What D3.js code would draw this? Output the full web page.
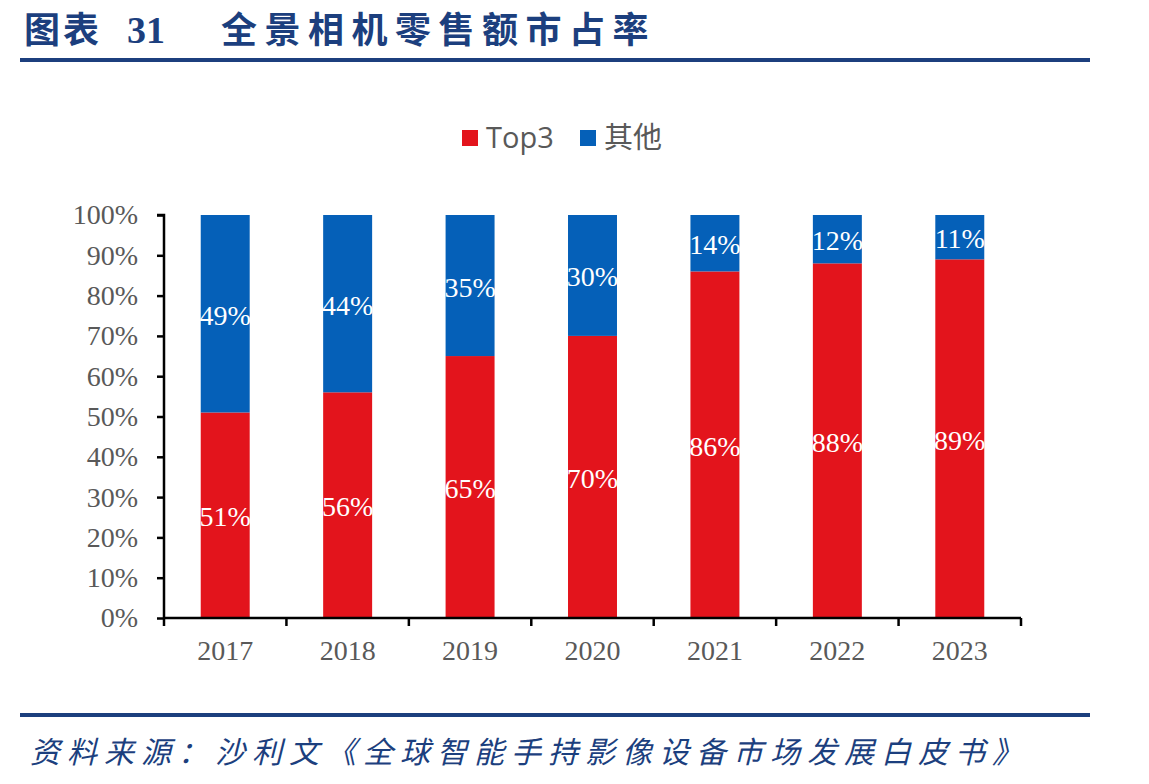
<!DOCTYPE html>
<html><head><meta charset="utf-8">
<script src="https://cdn.jsdelivr.net/npm/d3@7"></script>
<style>body{margin:0;background:#fff}</style>
</head><body>
<svg id="c" width="1149" height="784"></svg>
<script>
const years = ["2017","2018","2019","2020","2021","2022","2023"];
const top3 = [51,56,65,70,86,88,89];
const others = [49,44,35,30,14,12,11];
const yTicks = [0,10,20,30,40,50,60,70,80,90,100];
const seriesNames = ["Top3","其他"];
const colors = ["#E3141C","#0560B8"];

const svg = d3.select("#c");
const navy = "#1C3F7E";
// Title
svg.append("text").attr("x",24).attr("y",43)
  .attr("font-family","'Noto Sans CJK SC',sans-serif").attr("font-weight","bold")
  .attr("font-size",36).attr("fill",navy).attr("letter-spacing",3)
  .text("图表");
svg.append("text").attr("x",127).attr("y",43)
  .attr("font-family","'Liberation Serif',serif").attr("font-weight","bold")
  .attr("font-size",38).attr("fill",navy)
  .text("31");
svg.append("text").attr("x",221).attr("y",43)
  .attr("font-family","'Noto Sans CJK SC',sans-serif").attr("font-weight","bold")
  .attr("font-size",36).attr("fill",navy).attr("letter-spacing",7.5)
  .text("全景相机零售额市占率");
svg.append("rect").attr("x",20).attr("y",58).attr("width",1070).attr("height",4).attr("fill",navy);
svg.append("rect").attr("x",20).attr("y",713).attr("width",1070).attr("height",4).attr("fill",navy);
svg.append("text").attr("x",30).attr("y",763)
  .attr("font-family","'Noto Sans CJK SC',sans-serif").attr("font-style","italic")
  .attr("font-size",30).attr("fill",navy).attr("letter-spacing",7)
  .text("资料来源：沙利文《全球智能手持影像设备市场发展白皮书》");

// Chart
const x = d3.scaleBand().domain(years).range([164,1021]).paddingInner(0.6).paddingOuter(0.3);
const xb = d3.scaleBand().domain(years).range([164,1021]);
const y = d3.scaleLinear().domain([0,100]).range([618,215]);

const data = years.map((yr,i)=>({yr, top3:top3[i], others:others[i]}));
const stack = d3.stack().keys(["top3","others"])(data);

const g = svg.append("g");
stack.forEach((s,k)=>{
  g.selectAll(null).data(s).enter().append("rect")
    .attr("x",d=>x(d.data.yr)).attr("width",x.bandwidth())
    .attr("y",d=>y(d[1])).attr("height",d=>y(d[0])-y(d[1]))
    .attr("fill",colors[k]);
  g.selectAll(null).data(s).enter().append("text")
    .attr("x",d=>x(d.data.yr)+x.bandwidth()/2)
    .attr("y",d=>(y(d[0])+y(d[1]))/2+11)
    .attr("text-anchor","middle").attr("fill","#fff")
    .attr("font-family","'Liberation Serif',serif").attr("font-size",28)
    .text(d=>(d[1]-d[0])+"%");
});

// Y axis
const yAxis = d3.axisLeft(y).tickValues(yTicks).tickFormat(d=>d+"%").tickSize(7).tickPadding(19);
const ya = svg.append("g").attr("transform","translate(164,0)").call(yAxis);
ya.select(".domain").attr("stroke","#000").attr("stroke-width",2.5).attr("d","M-7,215H0V618");
ya.selectAll(".tick line").attr("stroke","#000").attr("stroke-width",2.5);
ya.selectAll("text").attr("font-family","'Liberation Serif',serif").attr("font-size",28).attr("fill","#595959");

// X axis
const xAxis = d3.axisBottom(xb).tickSize(0).tickPadding(22);
const xa = svg.append("g").attr("transform","translate(0,618)").call(xAxis);
xa.select(".domain").attr("stroke","#000").attr("stroke-width",2.5).attr("d","M164,0H1021");
xa.selectAll("text").attr("font-family","'Liberation Serif',serif").attr("font-size",28).attr("fill","#595959");
const bounds = years.map(yr=>xb(yr)).concat([xb(years[years.length-1])+xb.bandwidth()]);
xa.selectAll(".bt").data(bounds).enter().append("line")
  .attr("x1",d=>d).attr("x2",d=>d).attr("y1",0).attr("y2",8)
  .attr("stroke","#000").attr("stroke-width",2.5);

// Legend
const leg = svg.append("g");
const legX = [462,580];
seriesNames.forEach((n,i)=>{
  leg.append("rect").attr("x",legX[i]).attr("y",130).attr("width",16).attr("height",16).attr("fill",colors[i]);
  leg.append("text").attr("x",legX[i]+24).attr("y",148)
    .attr("font-family","'Open Sans','Noto Sans CJK SC',sans-serif").attr("font-size",29).attr("fill","#595959")
    .text(n);
});
</script>
</body></html>
